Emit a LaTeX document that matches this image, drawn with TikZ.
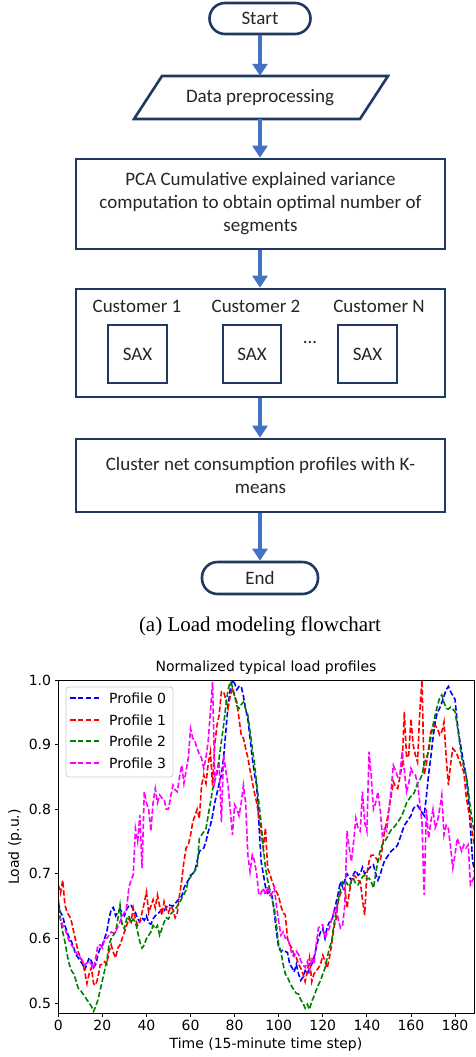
\documentclass[tikz,border=0pt]{standalone}
\usepackage{fontspec}
\setmainfont{Carlito}
\newfontfamily\capfont{Liberation Serif}
\newfontfamily\plotfont{DejaVu Sans}
\usetikzlibrary{arrows.meta}
\definecolor{navy}{HTML}{1F3864}
\definecolor{arrowblue}{HTML}{4472C4}
\definecolor{txt}{HTML}{262626}
\definecolor{pblue}{HTML}{0000FF}
\definecolor{pred}{HTML}{FF0000}
\definecolor{pgreen}{HTML}{008000}
\definecolor{pmag}{HTML}{FF00FF}
\definecolor{legedge}{HTML}{CCCCCC}
\newcommand{\fsz}{\fontsize{19}{23}\selectfont}
\newcommand{\psz}{\plotfont\fontsize{14}{17}\selectfont}
\tikzset{
  fbox/.style={draw=navy, line width=2.6pt, fill=white, text=txt, font=\fsz, align=center, inner sep=0pt},
  term/.style={fbox, rounded corners=15.5pt},
  ftext/.style={text=txt, font=\fsz, inner sep=0pt},
  flow/.style={draw=arrowblue, line width=3.2pt, -{Triangle[width=15pt,length=12pt]}},
  prof/.style={line width=1.6pt, dash pattern=on 5.5pt off 2.4pt},
  ptext/.style={font=\psz, text=black, inner sep=0pt},
  spine/.style={line width=0.8pt, black},
}
\begin{document}
\begin{tikzpicture}[x=1pt,y=-1pt]
\useasboundingbox (0,0) rectangle (475,1057);
% ---------- flowchart ----------
\node[term, minimum width=101pt, minimum height=31pt] (start) at (260,18.5) {Start};
\draw[navy, line width=2.6pt, fill=white] (162,76) -- (388,76) -- (360,119) -- (134,119) -- cycle;
\node[ftext, minimum width=200pt, minimum height=43pt] (dp) at (260,97.5) {Data preprocessing};
\node[fbox, minimum width=369pt, minimum height=90pt] (pca) at (260.5,204) {PCA Cumulative explained variance\\computation to obtain optimal number of\\segments};
\node[fbox, minimum width=369pt, minimum height=108pt] (cust) at (260.5,343) {};
\node[ftext] (c1) at (137,306.5) {Customer 1};
\node[ftext] (c2) at (256,306.5) {Customer 2};
\node[ftext] (cn) at (379,306.5) {Customer N};
\node[fbox, minimum width=59pt, minimum height=58pt] (sax1) at (137.5,354) {SAX};
\node[fbox, minimum width=58pt, minimum height=58pt] (sax2) at (252,354) {SAX};
\node[fbox, minimum width=59pt, minimum height=58pt] (sax3) at (367.5,354) {SAX};
\node[ftext] (dots) at (310,342) {...};
\node[fbox, minimum width=369pt, minimum height=73pt] (clu) at (260.5,475.5) {Cluster net consumption profiles with K-\\means};
\node[term, minimum width=116pt, minimum height=32pt] (end) at (260,578) {End};
\draw[flow] (start.south) -- (dp.north);
\draw[flow] (dp.south) -- (pca.north -| dp.south);
\draw[flow] (pca.south -| dp.south) -- (cust.north -| dp.south);
\draw[flow] (cust.south -| dp.south) -- (clu.north -| dp.south);
\draw[flow] (clu.south -| dp.south) -- (end.north -| dp.south);
\node[font=\capfont\fontsize{21}{25}\selectfont, text=black, inner sep=0pt] (cap) at (260,626) {(a) Load modeling flowchart};
% ---------- plot ----------
\node[ptext] (title) at (266,668) {Normalized typical load profiles};
\node[ptext, rotate=90] (ylab) at (15,847) {Load (p.u.)};
\node[ptext] (xlab) at (266,1045) {Time (15-minute time step)};
\begin{scope}[shift={(58.3,1326)}, x=2.204pt, y=646pt]
  \begin{scope}
  \clip (0,0.4845) rectangle (188.6,1.0);
  \draw[prof, pblue] plot coordinates {(0,0.655) (1,0.64) (2,0.635) (3,0.62) (4,0.61) (5,0.60) (6,0.595) (7,0.585) (8,0.575) (9,0.57) (10,0.565) (11,0.56) (12,0.552) (13,0.56) (14,0.57) (15,0.565) (16,0.555) (17,0.56) (18,0.575) (19,0.585) (20,0.59) (21,0.60) (22,0.61) (23,0.63) (24,0.645) (25,0.648) (26,0.635) (27,0.64) (28,0.645) (29,0.64) (30,0.635) (31,0.645) (32,0.65) (33,0.652) (34,0.645) (35,0.64) (36,0.63) (37,0.626) (38,0.632) (39,0.628) (40,0.635) (41,0.624) (42,0.622) (43,0.63) (44,0.635) (45,0.638) (46,0.641) (47,0.645) (48,0.643) (49,0.648) (50,0.652) (52,0.65) (54,0.658) (55,0.662) (56,0.665) (57,0.678) (58,0.685) (59,0.69) (60,0.698) (61,0.70) (62,0.705) (63,0.72) (64,0.735) (65,0.737) (66,0.74) (67,0.75) (68,0.765) (69,0.775) (70,0.79) (71,0.81) (72,0.825) (73,0.84) (74,0.853) (75,0.88) (76,0.92) (77,0.96) (78,0.985) (79,1.0) (80,0.995) (81,0.985) (82,0.99) (83,0.99) (84,0.975) (85,0.955) (86,0.94) (87,0.91) (88,0.88) (89,0.855) (90,0.837) (91,0.78) (92,0.72) (93,0.70) (94,0.68) (95,0.67) (96,0.672) (97,0.665) (98,0.64) (99,0.61) (100,0.585) (101,0.58) (102,0.582) (103,0.58) (104,0.578) (105,0.56) (106,0.555) (107,0.548) (108,0.56) (109,0.545) (110,0.535) (111,0.54) (112,0.55) (113,0.545) (114,0.555) (115,0.56) (116,0.57) (117,0.585) (118,0.60) (119,0.61) (120,0.615) (121,0.60) (122,0.618) (123,0.625) (124,0.626) (125,0.64) (126,0.655) (127,0.67) (128,0.688) (129,0.68) (130,0.69) (131,0.70) (132,0.695) (133,0.69) (134,0.70) (135,0.705) (136,0.698) (137,0.70) (138,0.71) (139,0.70) (140,0.705) (141,0.708) (142,0.712) (143,0.714) (144,0.70) (145,0.69) (146,0.698) (147,0.71) (148,0.72) (149,0.725) (150,0.73) (151,0.735) (152,0.738) (153,0.74) (154,0.745) (155,0.755) (156,0.765) (157,0.775) (158,0.78) (159,0.785) (160,0.79) (161,0.80) (162,0.805) (163,0.806) (164,0.80) (165,0.795) (166,0.79) (167,0.82) (168,0.853) (169,0.88) (170,0.91) (171,0.935) (172,0.95) (173,0.956) (174,0.965) (175,0.975) (176,0.985) (177,0.99) (178,0.982) (179,0.976) (180,0.97) (181,0.935) (182,0.91) (183,0.89) (184,0.87) (185,0.853) (186,0.82) (187,0.77) (188,0.72) (189,0.70)};
  \draw[prof, pred] plot coordinates {(0,0.683) (1,0.67) (2,0.69) (3,0.652) (4,0.64) (5,0.635) (6,0.626) (7,0.61) (8,0.595) (9,0.58) (10,0.57) (11,0.565) (12,0.548) (13,0.53) (14,0.545) (15,0.555) (16,0.53) (17,0.528) (18,0.54) (19,0.559) (20,0.56) (21,0.564) (22,0.56) (23,0.58) (24,0.59) (25,0.578) (26,0.57) (27,0.585) (28,0.59) (29,0.60) (30,0.61) (31,0.62) (32,0.63) (33,0.625) (34,0.647) (35,0.63) (36,0.62) (37,0.626) (38,0.64) (39,0.655) (40,0.672) (41,0.64) (42,0.65) (43,0.66) (44,0.647) (45,0.667) (46,0.65) (47,0.636) (48,0.657) (49,0.645) (50,0.64) (51,0.65) (52,0.645) (53,0.632) (54,0.64) (55,0.667) (56,0.69) (57,0.719) (58,0.74) (59,0.745) (60,0.76) (61,0.78) (62,0.79) (63,0.80) (64,0.786) (65,0.837) (66,0.853) (67,0.84) (68,0.87) (69,0.889) (70,0.837) (71,0.9) (72,0.93) (73,0.946) (74,0.982) (75,0.982) (76,0.97) (77,0.956) (78,0.975) (79,0.987) (80,0.975) (81,0.966) (82,0.94) (83,0.915) (84,0.91) (85,0.894) (86,0.88) (87,0.86) (88,0.843) (89,0.825) (90,0.81) (91,0.79) (92,0.766) (93,0.74) (94,0.771) (95,0.708) (96,0.70) (97,0.688) (98,0.68) (99,0.672) (100,0.665) (101,0.65) (102,0.64) (103,0.636) (104,0.60) (105,0.59) (106,0.585) (107,0.574) (108,0.57) (109,0.56) (110,0.554) (111,0.545) (112,0.533) (113,0.55) (114,0.57) (115,0.533) (116,0.545) (117,0.55) (118,0.554) (119,0.56) (120,0.574) (121,0.565) (122,0.554) (123,0.57) (124,0.59) (125,0.616) (126,0.63) (127,0.657) (128,0.67) (129,0.675) (130,0.678) (131,0.647) (132,0.67) (133,0.69) (134,0.698) (135,0.695) (136,0.69) (137,0.688) (138,0.66) (139,0.636) (140,0.70) (141,0.719) (142,0.729) (143,0.729) (144,0.725) (145,0.72) (146,0.719) (147,0.74) (148,0.766) (149,0.78) (150,0.80) (151,0.82) (152,0.843) (153,0.835) (154,0.832) (155,0.85) (156,0.868) (157,0.951) (158,0.88) (159,0.884) (160,0.94) (161,0.90) (162,0.884) (163,0.873) (164,0.95) (165,1.0) (166,0.853) (167,0.87) (168,0.894) (169,0.92) (170,0.925) (171,0.93) (172,0.925) (173,0.915) (174,0.92) (175,0.935) (176,0.88) (177,0.837) (178,0.87) (179,0.894) (180,0.89) (181,0.884) (182,0.875) (183,0.865) (184,0.858) (185,0.822) (186,0.80) (187,0.786) (188,0.76) (189,0.74)};
  \draw[prof, pgreen] plot coordinates {(0,0.66) (1,0.63) (2,0.61) (3,0.595) (4,0.575) (5,0.56) (6,0.55) (7,0.545) (8,0.535) (9,0.523) (10,0.52) (11,0.515) (12,0.51) (13,0.505) (14,0.50) (15,0.495) (16,0.487) (17,0.495) (18,0.505) (19,0.52) (20,0.535) (21,0.55) (22,0.565) (23,0.59) (24,0.60) (25,0.605) (26,0.61) (27,0.63) (28,0.652) (29,0.62) (30,0.615) (31,0.63) (32,0.635) (33,0.625) (34,0.63) (35,0.625) (36,0.61) (37,0.595) (38,0.585) (39,0.59) (40,0.60) (41,0.605) (42,0.61) (43,0.62) (44,0.615) (45,0.62) (46,0.605) (47,0.615) (48,0.625) (49,0.632) (50,0.63) (51,0.638) (52,0.641) (53,0.645) (54,0.65) (55,0.655) (56,0.662) (57,0.668) (58,0.675) (59,0.69) (60,0.695) (61,0.70) (62,0.705) (63,0.71) (64,0.755) (65,0.76) (66,0.765) (67,0.77) (68,0.79) (69,0.81) (70,0.83) (71,0.845) (72,0.855) (73,0.88) (74,0.905) (75,0.93) (76,0.96) (77,0.985) (78,0.997) (79,0.99) (80,0.976) (81,0.96) (82,0.956) (83,0.962) (84,0.966) (85,0.955) (86,0.946) (87,0.92) (88,0.895) (89,0.87) (90,0.84) (91,0.81) (92,0.78) (93,0.74) (94,0.71) (95,0.69) (96,0.675) (97,0.66) (98,0.647) (99,0.62) (100,0.59) (101,0.58) (102,0.56) (103,0.545) (104,0.54) (105,0.532) (106,0.525) (107,0.52) (108,0.515) (109,0.514) (110,0.505) (111,0.50) (112,0.492) (113,0.498) (114,0.49) (115,0.503) (116,0.51) (117,0.52) (118,0.528) (119,0.535) (120,0.545) (121,0.554) (122,0.57) (123,0.585) (124,0.595) (125,0.62) (126,0.641) (127,0.66) (128,0.675) (129,0.688) (130,0.69) (131,0.685) (132,0.68) (133,0.688) (134,0.692) (135,0.684) (136,0.683) (137,0.69) (138,0.695) (139,0.698) (140,0.692) (141,0.693) (142,0.688) (143,0.678) (144,0.70) (145,0.72) (146,0.735) (147,0.745) (148,0.75) (149,0.755) (150,0.762) (151,0.768) (152,0.771) (153,0.775) (154,0.78) (155,0.785) (156,0.791) (157,0.80) (158,0.81) (159,0.815) (160,0.82) (161,0.822) (162,0.83) (163,0.84) (164,0.845) (165,0.853) (166,0.87) (167,0.88) (168,0.889) (169,0.91) (170,0.93) (171,0.946) (172,0.96) (173,0.972) (174,0.977) (175,0.965) (176,0.956) (177,0.955) (178,0.958) (179,0.955) (180,0.951) (181,0.93) (182,0.905) (183,0.88) (184,0.865) (185,0.853) (186,0.83) (187,0.80) (188,0.78) (189,0.76)};
  \draw[prof, pmag] plot coordinates {(0,0.636) (1,0.63) (2,0.62) (3,0.615) (4,0.605) (5,0.595) (6,0.59) (7,0.585) (8,0.578) (9,0.575) (10,0.57) (11,0.565) (12,0.559) (13,0.562) (14,0.564) (15,0.56) (16,0.554) (17,0.57) (18,0.59) (19,0.59) (20,0.585) (21,0.60) (22,0.60) (23,0.605) (24,0.61) (25,0.608) (26,0.61) (27,0.618) (28,0.626) (29,0.635) (30,0.64) (31,0.647) (32,0.678) (33,0.69) (34,0.698) (35,0.77) (36,0.75) (37,0.791) (38,0.709) (39,0.827) (40,0.81) (41,0.80) (42,0.766) (43,0.81) (44,0.832) (45,0.81) (46,0.822) (47,0.817) (48,0.815) (49,0.80) (50,0.80) (51,0.82) (52,0.837) (53,0.83) (54,0.827) (55,0.85) (56,0.868) (57,0.84) (58,0.86) (59,0.88) (60,0.925) (61,0.91) (62,0.905) (63,0.894) (64,0.885) (65,0.879) (66,0.863) (67,0.88) (68,0.905) (69,0.95) (70,0.997) (71,0.843) (72,0.86) (73,0.868) (74,0.78) (75,0.884) (76,0.86) (77,0.837) (78,0.80) (79,0.76) (80,0.807) (81,0.8) (82,0.79) (83,0.81) (84,0.837) (85,0.81) (86,0.729) (87,0.703) (88,0.729) (89,0.72) (90,0.70) (91,0.667) (92,0.67) (93,0.678) (94,0.667) (95,0.68) (96,0.667) (97,0.67) (98,0.678) (99,0.65) (100,0.626) (101,0.605) (102,0.61) (103,0.60) (104,0.60) (105,0.59) (106,0.575) (107,0.572) (108,0.58) (109,0.575) (110,0.565) (111,0.559) (112,0.555) (113,0.564) (114,0.55) (115,0.57) (116,0.56) (117,0.59) (118,0.616) (119,0.62) (120,0.621) (121,0.60) (122,0.61) (123,0.616) (124,0.63) (125,0.64) (126,0.647) (127,0.63) (128,0.616) (129,0.62) (130,0.652) (131,0.766) (132,0.74) (133,0.719) (134,0.75) (135,0.786) (136,0.77) (137,0.766) (138,0.827) (139,0.78) (140,0.766) (141,0.889) (142,0.85) (143,0.80) (144,0.81) (145,0.827) (146,0.80) (147,0.76) (148,0.77) (149,0.766) (150,0.80) (151,0.83) (152,0.868) (153,0.86) (154,0.85) (155,0.853) (156,0.889) (157,0.86) (158,0.827) (159,0.84) (160,0.863) (161,0.855) (162,0.853) (163,0.84) (164,0.81) (165,0.78) (166,0.667) (167,0.80) (168,0.755) (169,0.78) (170,0.80) (171,0.771) (172,0.78) (173,0.80) (174,0.822) (175,0.76) (176,0.775) (177,0.77) (178,0.74) (179,0.709) (180,0.73) (181,0.755) (182,0.745) (183,0.735) (184,0.745) (185,0.74) (186,0.745) (187,0.683) (188,0.69) (189,0.70)};
  \end{scope}
  \draw[spine] (0,0.4845) rectangle (188.6,1.0);
  \foreach \t [count=\i] in {0,20,...,180} {
    \draw[spine] (\t,0.4845) -- (\t,0.47908);
    \node[ptext, anchor=north] (xt\i) at (\t,0.47366) {\t};
  }
  \foreach \v [count=\i] in {0.5,0.6,0.7,0.8,0.9,1.0} {
    \draw[spine] (0,\v) -- (-1.588,\v);
    \node[ptext, anchor=east] (yt\i) at (-3.176,\v) {\v};
  }
\end{scope}
% legend
\draw[legedge, line width=0.8pt, fill=white, fill opacity=0.8, rounded corners=3pt] (66,687) rectangle (173,777);
\foreach \c/\n/\y [count=\i] in {pblue/0/698, pred/1/720, pgreen/2/741, pmag/3/763} {
  \coordinate (la\i) at (70,\y);
  \coordinate (lb\i) at (99,\y);
  \draw[prof, \c] (la\i) -- (lb\i);
  \node[ptext, anchor=west] (lt\i) at (109,\y) {Profile \n};
}
\end{tikzpicture}
\end{document}
